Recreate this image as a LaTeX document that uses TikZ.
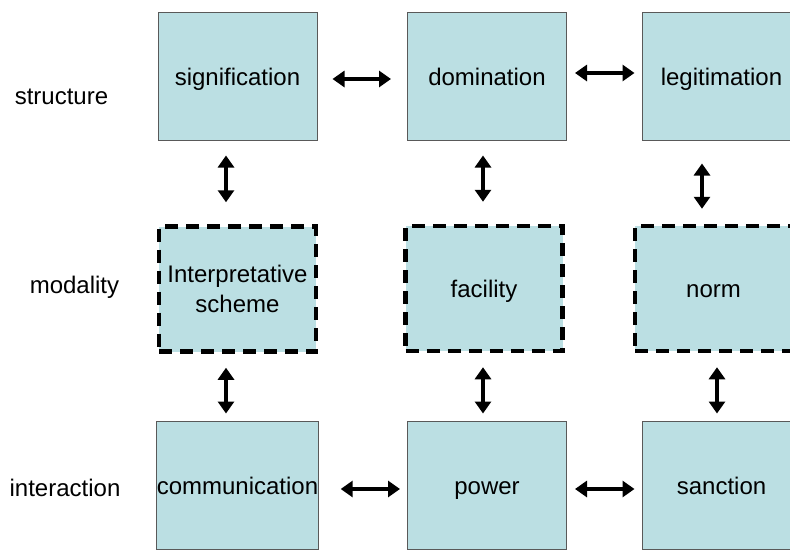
\documentclass[tikz,border=0pt]{standalone}
\usepackage{fontspec}
\setmainfont{Liberation Sans}
\usetikzlibrary{arrows.meta}
\definecolor{caixa}{RGB}{187,223,227}

\begin{document}
\begin{tikzpicture}[x=1pt, y=-1pt, >={Triangle[length=12pt,width=16pt]},
    base/.style={fill=caixa, inner sep=0pt, align=center, font=\fontsize{24}{30}\selectfont},
    linha/.style={text height=21pt, text depth=3pt},
    bloco/.style={base, linha, draw=black!65, line width=1pt, minimum width=159pt, minimum height=128pt},
    modal/.style={base, draw=black, line width=4.5pt, dash pattern=on 13pt off 8pt, minimum width=157pt, minimum height=125pt},
    rotulo/.style={font=\fontsize{24}{30}\selectfont, linha},
    seta/.style={<->, line width=3.5pt}]

    \useasboundingbox (0,0) rectangle (790,549);
    \clip (0,0) rectangle (790,549);

    % rótulos das linhas
    \node[rotulo] (lstruct) at (61.5,95) {structure};
    \node[rotulo] (lmodal) at (74.5,284) {modality};
    \node[rotulo] (linter) at (65,487) {interaction};

    % estrutura
    \node[bloco] (signif) at (237.5,76) {signification};
    \node[bloco] (domin) at (487,76) {domination};
    \node[bloco] (legit) at (721.5,76) {legitimation};

    % modalidade
    \node[modal] (interp) at (237.5,289) {Interpretative\\scheme};
    \node[modal, linha] (facil) at (484,288.5) {facility};
    \node[modal, linha] (norma) at (713.5,288.5) {norm};

    % interação
    \node[bloco] (comun) at (237.5,485) {communication};
    \node[bloco] (poder) at (487,485) {power};
    \node[bloco] (sanc) at (721.5,485) {sanction};

    % setas horizontais
    \draw[seta, shorten <=15pt, shorten >=16pt] ([yshift=-3pt]signif.east) -- ([yshift=-3pt]domin.west);
    \draw[seta, shorten <=8pt, shorten >=7pt] ([yshift=3pt]domin.east) -- ([yshift=3pt]legit.west);
    \draw[seta, shorten <=22pt, shorten >=7pt] ([yshift=-4pt]comun.east) -- ([yshift=-4pt]poder.west);
    \draw[seta, shorten <=8pt, shorten >=7pt] ([yshift=-4pt]poder.east) -- ([yshift=-4pt]sanc.west);

    % setas verticais
    \draw[seta, shorten <=15pt, shorten >=22pt] ([xshift=-11.5pt]signif.south) -- ([xshift=-11.5pt]signif.south |- interp.north);
    \draw[seta, shorten <=15pt, shorten >=22pt] ([xshift=-4pt]domin.south) -- ([xshift=-4pt]domin.south |- facil.north);
    \draw[seta, shorten <=23pt, shorten >=15pt] ([xshift=-19.5pt]legit.south) -- ([xshift=-19.5pt]legit.south |- norma.north);
    \draw[seta, shorten <=14pt, shorten >=7pt] ([xshift=-11.5pt]interp.south) -- ([xshift=-11.5pt]interp.south |- comun.north);
    \draw[seta, shorten <=14pt, shorten >=7pt] ([xshift=-1pt]facil.south) -- ([xshift=-1pt]facil.south |- poder.north);
    \draw[seta, shorten <=14pt, shorten >=7pt] ([xshift=3.5pt]norma.south) -- ([xshift=3.5pt]norma.south |- sanc.north);
\end{tikzpicture}
\end{document}
